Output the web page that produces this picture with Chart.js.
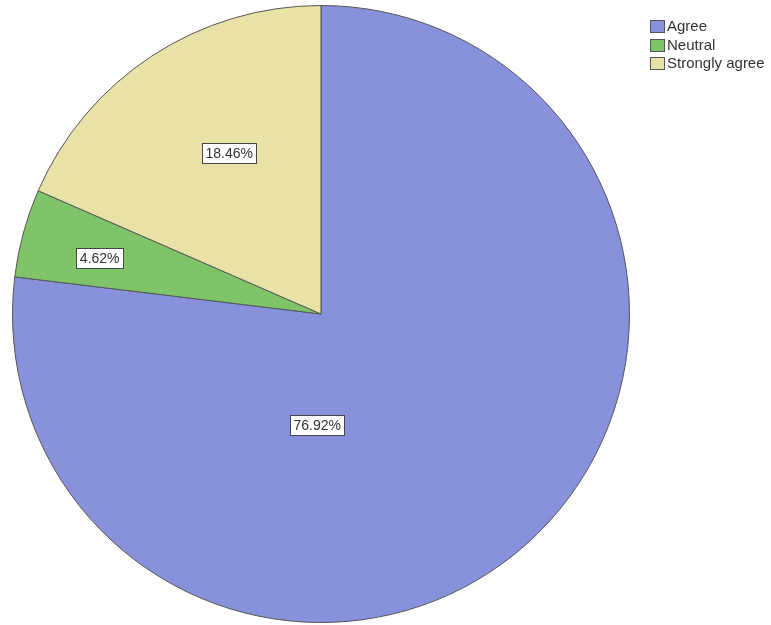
<!DOCTYPE html>
<html>
<head>
<meta charset="utf-8">
<script src="https://cdn.jsdelivr.net/npm/chart.js@4/dist/chart.umd.min.js"></script>
<style>
  html, body { margin: 0; padding: 0; background: #ffffff; }
  #wrap { position: relative; width: 771px; height: 625px; }
</style>
</head>
<body>
<div id="wrap"><canvas id="c" width="771" height="625"></canvas></div>
<script>
const categories = ["Agree", "Neutral", "Strongly agree"];
const percentValues = [76.92, 4.62, 18.46];
const sliceColors = ["#8891dc", "#80c46a", "#e8e2a6"];

// label anchor inside each slice: fraction along the slice angle, fraction of radius
const labelAnchors = [
  { along: 0.657, radial: 0.36 },
  { along: 0.44, radial: 0.74 },
  { along: 0.553, radial: 0.60 }
];

const sliceLabels = {
  id: 'sliceLabels',
  afterDatasetsDraw(chart) {
    const ctx = chart.ctx;
    const meta = chart.getDatasetMeta(0);
    ctx.save();
    ctx.font = '14px "Liberation Sans", Arial, sans-serif';
    ctx.textAlign = 'center';
    ctx.textBaseline = 'middle';
    meta.data.forEach((arc, i) => {
      const p = arc.getProps(['x', 'y', 'startAngle', 'endAngle', 'outerRadius'], true);
      const a = labelAnchors[i];
      const ang = p.startAngle + (p.endAngle - p.startAngle) * a.along;
      const r = p.outerRadius * a.radial;
      const cx = p.x + Math.cos(ang) * r;
      const cy = p.y + Math.sin(ang) * r;
      const txt = percentValues[i].toFixed(2) + '%';
      const w = Math.round(ctx.measureText(txt).width + 7);
      const h = 20;
      const bx = Math.round(cx - w / 2) + 0.5, by = Math.round(cy - h / 2) + 0.5;
      ctx.fillStyle = '#ffffff';
      ctx.fillRect(bx, by, w, h);
      ctx.strokeStyle = '#444444';
      ctx.lineWidth = 1;
      ctx.strokeRect(bx, by, w, h);
      ctx.fillStyle = '#333333';
      ctx.fillText(txt, cx, cy + 1);
    });
    ctx.restore();
  }
};

const sideLegend = {
  id: 'sideLegend',
  afterDraw(chart) {
    const ctx = chart.ctx;
    const labels = chart.data.labels;
    const colors = chart.data.datasets[0].backgroundColor;
    ctx.save();
    ctx.font = '15px "Liberation Sans", Arial, sans-serif';
    ctx.textAlign = 'left';
    ctx.textBaseline = 'middle';
    const x0 = 650, y0 = 26, step = 18.5;
    labels.forEach((lab, i) => {
      const y = y0 + i * step;
      ctx.fillStyle = colors[i];
      ctx.fillRect(x0 + 0.5, Math.round(y - 6) + 0.5, 14, 12);
      ctx.strokeStyle = '#555555';
      ctx.lineWidth = 1;
      ctx.strokeRect(x0 + 0.5, Math.round(y - 6) + 0.5, 14, 12);
      ctx.fillStyle = '#333333';
      ctx.fillText(lab, x0 + 17, y + 1);
    });
    ctx.restore();
  }
};

new Chart(document.getElementById('c'), {
  type: 'pie',
  data: {
    labels: categories,
    datasets: [{
      data: percentValues,
      backgroundColor: sliceColors,
      borderColor: '#555555',
      borderWidth: 1
    }]
  },
  options: {
    responsive: false,
    animation: false,
    layout: { padding: { left: 12, right: 141, top: 5, bottom: 2 } },
    plugins: {
      legend: { display: false },
      tooltip: { enabled: false },
      title: { display: false }
    }
  },
  plugins: [sliceLabels, sideLegend]
});
</script>
</body>
</html>
